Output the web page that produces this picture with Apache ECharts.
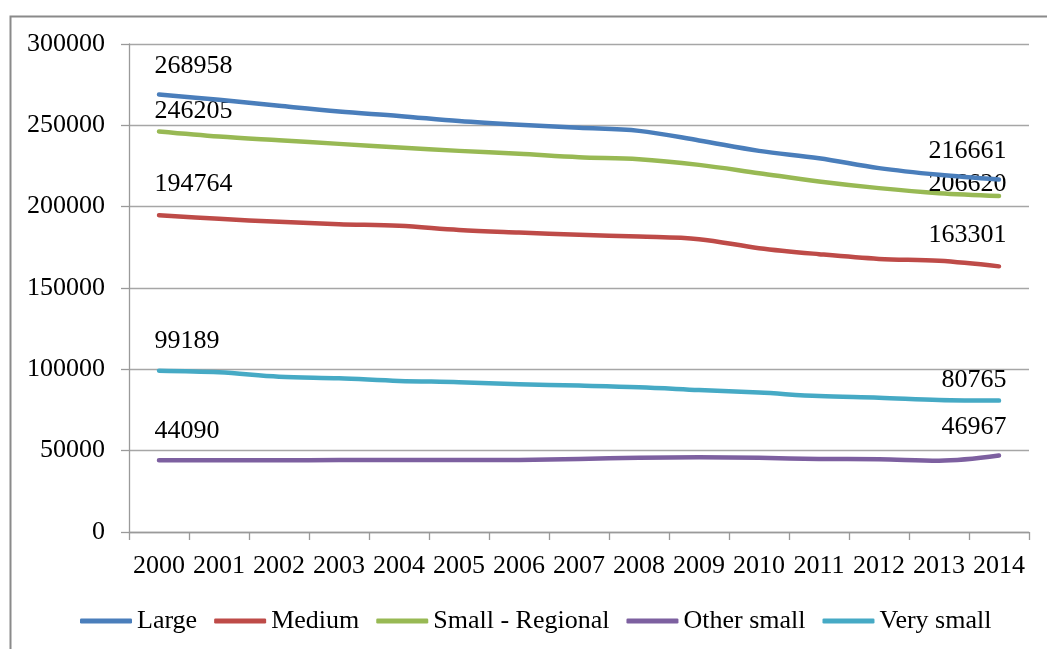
<!DOCTYPE html>
<html>
<head>
<meta charset="utf-8">
<script src="https://cdn.jsdelivr.net/npm/echarts@6/dist/echarts.min.js"></script>
<style>
html,body{margin:0;padding:0;background:#fff;}
#chart{width:1047px;height:649px;}
</style>
</head>
<body>
<div id="chart"></div>
<script>
var years = ['2000','2001','2002','2003','2004','2005','2006','2007','2008','2009','2010','2011','2012','2013','2014'];
var seriesNames = ['Large','Medium','Small - Regional','Other small','Very small'];
var large = [268958,265700,262000,258500,255800,252600,250300,248500,246600,240700,234300,229800,223700,219600,216661];
var medium = [194764,192500,190700,189200,188200,185700,184100,182700,181600,180000,174500,170800,167900,166700,163301];
var smallRegional = [246205,243100,240800,238600,236400,234300,232500,230400,229200,225700,220600,215500,211400,208300,206620];
var otherSmall = [44090,44100,44150,44200,44200,44200,44300,44900,45700,45900,45600,44900,44700,43800,46967];
var verySmall = [99189,98200,95500,94500,92900,92100,90800,90000,89000,87300,85700,83600,82600,81200,80765];
var yTicks = [0,50000,100000,150000,200000,250000,300000];

var colors = ['#4A7EBB','#BE4B48','#98B954','#7D60A0','#46AAC5'];
var values = [large, medium, smallRegional, otherSmall, verySmall];
// label vertical offsets (start, end) in px relative to point
var labelDy = [[-28,-28],[-31,-31],[-20,-11],[-29,-28],[-29,-20]];

var font = 'Liberation Serif, Times New Roman, serif';
var fs = 26;

function buildData(arr, idx){
  var last = arr.length - 1;
  return arr.map(function(v, i){
    if (i === 0) {
      return {value: v, label: {show: true, position: [-4, labelDy[idx][0]], align: 'left', verticalAlign: 'middle'}};
    }
    if (i === last) {
      return {value: v, label: {show: true, position: [8, labelDy[idx][1]], align: 'right', verticalAlign: 'middle'}};
    }
    return v;
  });
}

var series = seriesNames.map(function(name, idx){
  return {
    name: name,
    type: 'line',
    data: buildData(values[idx], idx),
    smooth: 0.35,
    symbol: 'circle',
    symbolSize: 1,
    showSymbol: true,
    itemStyle: {color: colors[idx]},
    lineStyle: {color: colors[idx], width: 4.5, cap: 'round', join: 'round'},
    label: {show: false, color: '#000', fontFamily: font, fontSize: fs,
      formatter: function(p){ return String(p.value); }},
    emphasis: {disabled: true},
    z: 2 + (4 - idx)
  };
});

var chart = echarts.init(document.getElementById('chart'), null, {renderer: 'canvas'});
chart.setOption({
  animation: false,
  backgroundColor: '#ffffff',
  color: colors,
  grid: {left: 129, right: 18, top: 44, bottom: 117, containLabel: false},
  graphic: [{
    type: 'rect', left: 8, top: 14,
    shape: {x: 0, y: 0, width: 1100, height: 700},
    style: {fill: 'none', stroke: '#8a8a8a', lineWidth: 2},
    silent: true
  }],
  legend: {
    data: seriesNames.map(function(n, i){ return {name: n, itemStyle: {color: colors[i]}}; }),
    left: 75, top: 603,
    icon: 'roundRect',
    itemWidth: 52, itemHeight: 5, itemGap: 17,
    textStyle: {color: '#000', fontFamily: font, fontSize: fs},
    selectedMode: false
  },
  xAxis: {
    type: 'category',
    data: years,
    boundaryGap: true,
    axisLine: {show: true, lineStyle: {color: '#9a9a9a', width: 1.3}},
    axisTick: {show: true, inside: false, length: 8, alignWithLabel: false, lineStyle: {color: '#9a9a9a', width: 1.3}},
    axisLabel: {interval: 0, color: '#000', fontFamily: font, fontSize: fs, margin: 21},
    splitLine: {show: false}
  },
  yAxis: {
    type: 'value',
    min: 0, max: 300000, interval: 50000,
    axisLine: {show: true, lineStyle: {color: '#9a9a9a', width: 1.3}},
    axisTick: {show: true, inside: false, length: 8, lineStyle: {color: '#9a9a9a', width: 1.3}},
    axisLabel: {color: '#000', fontFamily: font, fontSize: fs, margin: 24,
      formatter: function(v){ return yTicks.indexOf(v) >= 0 ? String(v) : ''; }},
    splitLine: {show: true, lineStyle: {color: '#a6a6a6', width: 1.3}}
  },
  series: series
});
</script>
</body>
</html>
